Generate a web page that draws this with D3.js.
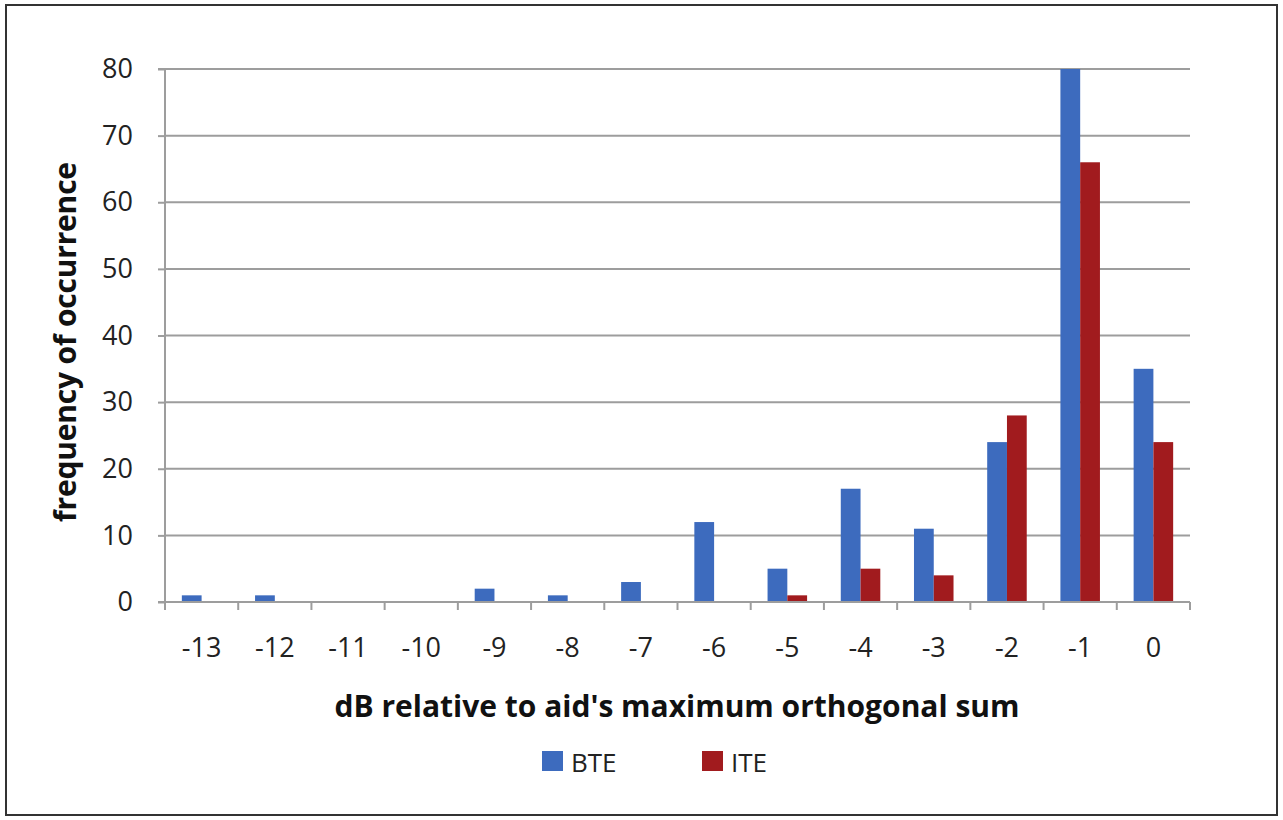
<!DOCTYPE html>
<html><head><meta charset="utf-8">
<script src="https://cdn.jsdelivr.net/npm/d3@7"></script>
<style>body{margin:0;background:#fff}svg{display:block}</style>
</head><body><svg id="c" width="1283" height="820"></svg>
<script>
const categories = ["-13","-12","-11","-10","-9","-8","-7","-6","-5","-4","-3","-2","-1","0"];
const bteValues = [1,1,0,0,2,1,3,12,5,17,11,24,80,35];
const iteValues = [0,0,0,0,0,0,0,0,1,5,4,28,66,24];
const seriesNames = ["BTE","ITE"];
const yTicks = [0,10,20,30,40,50,60,70,80];
const colors = ["#3D6BBE","#A11B1E"];

const svg = d3.select("#c");
svg.append("rect").attr("x",6).attr("y",5).attr("width",1271).attr("height",810)
  .attr("fill","#fff").attr("stroke","#333").attr("stroke-width",2);

const L=165,R=1190,T=69,B=602;
const x = d3.scaleBand().domain(categories).range([L,R]);
const y = d3.scaleLinear().domain([0,80]).range([B,T]);
const font = "'Open Sans', sans-serif";

// gridlines
svg.append("g").selectAll("line").data(yTicks.filter(d=>d>0)).join("line")
  .attr("x1",L).attr("x2",R).attr("y1",d=>y(d)).attr("y2",d=>y(d))
  .attr("stroke","#9d9d9d").attr("stroke-width",2);

// bars
const bw = x.bandwidth()*0.27;
const series = [bteValues, iteValues];
series.forEach((vals,i)=>{
  svg.append("g").selectAll("rect").data(categories).join("rect")
    .attr("x",d=>x(d)+x.bandwidth()/2 - bw + i*bw)
    .attr("width",bw)
    .attr("y",(d,j)=>y(vals[j]))
    .attr("height",(d,j)=>B-y(vals[j]))
    .attr("fill",colors[i]);
});

// y axis
const ya = svg.append("g").attr("transform",`translate(${L},0)`)
  .call(d3.axisLeft(y).tickValues(yTicks).tickSize(7).tickPadding(25));
ya.select(".domain").attr("stroke","#9d9d9d").attr("stroke-width",2).attr("d",`M-7,${T}H0V${B}H-7`);
ya.selectAll(".tick line").attr("stroke","#9d9d9d").attr("stroke-width",2);
ya.selectAll(".tick text").attr("font-family",font).attr("font-size",27).attr("fill","#222");

// x axis with boundary ticks
const xa = svg.append("g").attr("transform",`translate(0,${B})`);
xa.append("line").attr("x1",L).attr("x2",R).attr("stroke","#9d9d9d").attr("stroke-width",2);
const bounds = categories.map(c=>x(c)).concat([R]);
xa.selectAll("line.t").data(bounds).join("line").attr("class","t")
  .attr("x1",d=>d).attr("x2",d=>d).attr("y1",0).attr("y2",8)
  .attr("stroke","#9d9d9d").attr("stroke-width",2);
xa.selectAll("text").data(categories).join("text")
  .attr("x",d=>x(d)+x.bandwidth()/2).attr("y",55)
  .attr("text-anchor","middle").attr("font-family",font).attr("font-size",27).attr("fill","#222")
  .text(d=>d);

// titles
svg.append("text").attr("transform","translate(76,342) rotate(-90)")
  .attr("text-anchor","middle").attr("font-family",font).attr("font-weight","bold")
  .attr("font-size",30).attr("fill","#111").attr("letter-spacing",-0.2).text("frequency of occurrence");
svg.append("text").attr("x",677).attr("y",717)
  .attr("text-anchor","middle").attr("font-family",font).attr("font-weight","bold")
  .attr("font-size",30).attr("fill","#111").attr("letter-spacing",0).text("dB relative to aid's maximum orthogonal sum");

// legend
const legX = [542,702];
seriesNames.forEach((n,i)=>{
  svg.append("rect").attr("x",legX[i]).attr("y",751).attr("width",21).attr("height",20).attr("fill",colors[i]);
  svg.append("text").attr("x",legX[i]+29).attr("y",772).attr("font-family",font)
    .attr("font-size",26).attr("fill","#222").text(n);
});
</script></body></html>
